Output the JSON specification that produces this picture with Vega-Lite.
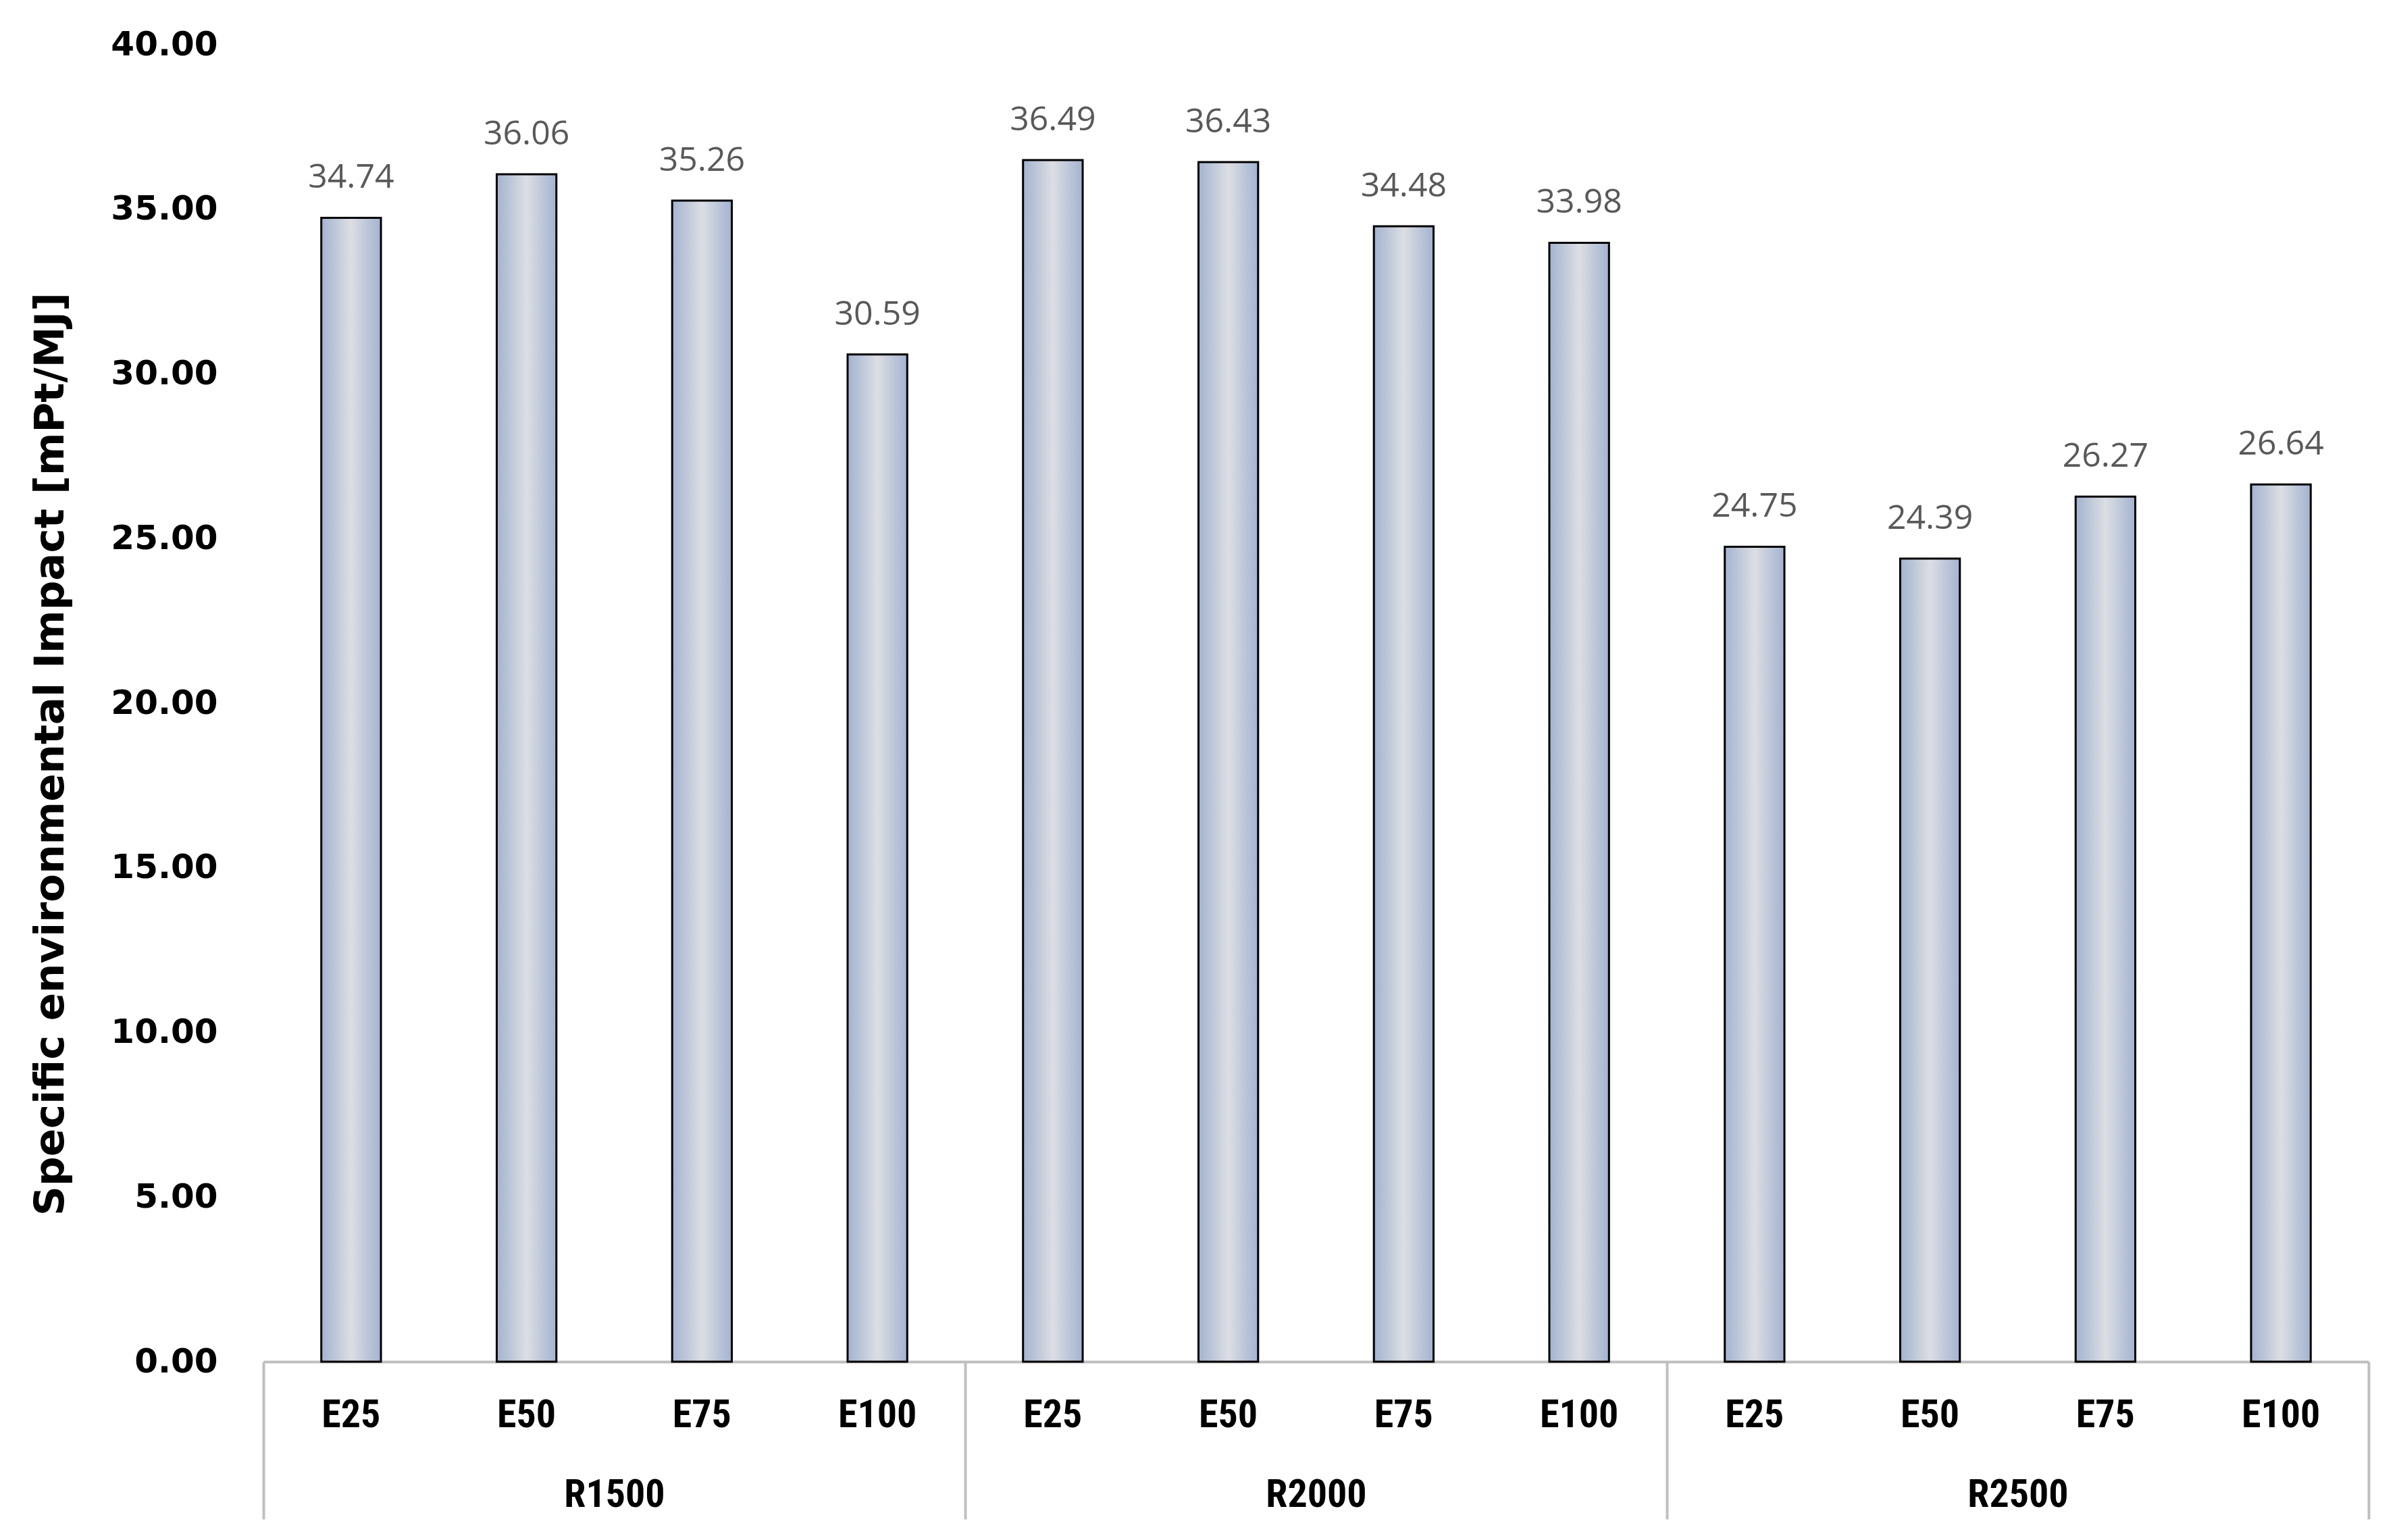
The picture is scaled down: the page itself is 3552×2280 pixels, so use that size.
{
  "$schema": "https://vega.github.io/schema/vega-lite/v6.json",
  "autosize": {"type": "none"},
  "width": 3117,
  "height": 1950,
  "padding": {"left": 390, "top": 66, "right": 45, "bottom": 264},
  "background": "white",
  "config": {"view": {"stroke": null}},
  "data": {
    "values": [
      {"group": "R1500", "level": "E25", "key": "R1500 E25", "value": 34.74},
      {"group": "R1500", "level": "E50", "key": "R1500 E50", "value": 36.06},
      {"group": "R1500", "level": "E75", "key": "R1500 E75", "value": 35.26},
      {"group": "R1500", "level": "E100", "key": "R1500 E100", "value": 30.59},
      {"group": "R2000", "level": "E25", "key": "R2000 E25", "value": 36.49},
      {"group": "R2000", "level": "E50", "key": "R2000 E50", "value": 36.43},
      {"group": "R2000", "level": "E75", "key": "R2000 E75", "value": 34.48},
      {"group": "R2000", "level": "E100", "key": "R2000 E100", "value": 33.98},
      {"group": "R2500", "level": "E25", "key": "R2500 E25", "value": 24.75},
      {"group": "R2500", "level": "E50", "key": "R2500 E50", "value": 24.39},
      {"group": "R2500", "level": "E75", "key": "R2500 E75", "value": 26.27},
      {"group": "R2500", "level": "E100", "key": "R2500 E100", "value": 26.64}
    ]
  },
  "layer": [
    {
      "layer": [
        {
          "mark": {
            "type": "bar",
            "stroke": "black",
            "strokeWidth": 3,
            "fill": {
              "gradient": "linear",
              "x1": 0, "x2": 1, "y1": 0, "y2": 0,
              "stops": [
                {"offset": 0, "color": "#a3b3d0"},
                {"offset": 0.5, "color": "#dcdee3"},
                {"offset": 1, "color": "#a3b3d0"}
              ]
            }
          },
          "encoding": {
            "x": {
              "field": "key", "type": "nominal", "sort": null,
              "scale": {"paddingInner": 0.66, "paddingOuter": 0.33},
              "axis": {
                "orient": "bottom", "title": null,
                "labelExpr": "split(datum.value, ' ')[1]",
                "ticks": false,
                "domainColor": "#bfbfbf", "domainWidth": 4,
                "labelAngle": 0,
                "labelFont": "Liberation Sans Narrow, Roboto Condensed, DejaVu Sans Condensed, sans-serif",
                "labelFontWeight": "bold", "labelFontSize": 58, "labelColor": "black",
                "labelPadding": 79, "labelBaseline": "middle"
              }
            },
            "y": {
              "field": "value", "type": "quantitative",
              "scale": {"domain": [0, 40]},
              "axis": {
                "values": [0, 5, 10, 15, 20, 25, 30, 35, 40],
                "format": ".2f", "grid": false, "domain": false, "ticks": false,
                "labelPadding": 68, "labelFont": "DejaVu Sans", "labelFontWeight": "bold",
                "labelFontSize": 50, "labelColor": "black", "labelBaseline": "middle",
                "title": "Specific environmental Impact  [mPt/MJ]",
                "titleFont": "DejaVu Sans", "titleFontSize": 61, "titleFontWeight": "bold",
                "titleColor": "black", "titlePadding": 84, "titleY": 1050
              }
            }
          }
        },
        {
          "mark": {"type": "text", "dy": -59, "baseline": "middle", "font": "Open Sans", "fontSize": 50, "color": "#595959"},
          "encoding": {
            "x": {"field": "key", "type": "nominal", "sort": null},
            "y": {"field": "value", "type": "quantitative"},
            "text": {"field": "value", "type": "quantitative", "format": ".2f"}
          }
        }
      ]
    },
    {
      "mark": {"type": "rule", "strokeOpacity": 0},
      "encoding": {
        "x": {
          "field": "group", "type": "nominal", "sort": null,
          "scale": {"paddingInner": 0, "paddingOuter": 0},
          "axis": {
            "orient": "bottom", "title": null,
            "tickBand": "extent", "tickSize": 233, "tickColor": "#bfbfbf", "tickWidth": 4,
            "domain": false, "labelAngle": 0,
            "labelFont": "Liberation Sans Narrow, Roboto Condensed, DejaVu Sans Condensed, sans-serif",
            "labelFontWeight": "bold", "labelFontSize": 58, "labelColor": "black",
            "labelPadding": -36, "labelBaseline": "middle"
          }
        }
      }
    }
  ],
  "resolve": {"scale": {"x": "independent"}, "axis": {"x": "independent"}}
}
